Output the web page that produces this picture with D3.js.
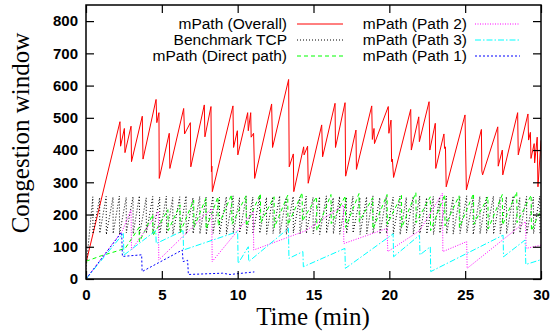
<!DOCTYPE html>
<html>
<head>
<meta charset="utf-8">
<script src="https://cdn.jsdelivr.net/npm/d3@7"></script>
<style>
  body { margin: 0; background: #fff; }
  text { font-family: "Liberation Sans", Arial, sans-serif; }
</style>
</head>
<body>
<script>
// Axis ticks
const xTicks = [0, 5, 10, 15, 20, 25, 30];
const yTicks = [0, 100, 200, 300, 400, 500, 600, 700, 800];

// mPath (Overall) - [time (min), cwnd]
const overall = [
  [0, 50], [2.24, 488], [2.28, 412], [2.53, 467], [2.57, 392], [2.97, 474], [3.0, 364],
  [3.71, 505], [3.76, 372], [4.62, 557], [4.67, 485], [4.81, 516], [4.83, 312],
  [5.49, 452], [5.53, 343], [6.44, 529], [6.5, 450], [6.88, 485], [6.91, 348],
  [7.8, 540], [7.84, 441], [8.24, 535], [8.27, 333], [8.3, 350], [8.33, 271],
  [9.69, 537], [9.73, 408], [9.98, 460], [10.01, 385], [10.66, 516], [10.7, 460],
  [10.86, 516], [10.89, 440], [11.05, 452], [11.12, 312], [12.24, 543], [12.3, 408],
  [13.36, 619], [13.4, 348], [13.67, 388], [13.7, 271], [14.35, 410], [14.38, 385],
  [14.61, 412], [14.65, 297], [15.54, 478], [15.6, 379], [16.42, 545], [16.45, 408],
  [17.08, 547], [17.12, 319], [17.8, 462], [17.83, 340], [18.84, 537], [18.88, 433],
  [18.99, 467], [19.02, 420], [19.93, 535], [19.97, 452], [20.11, 493], [20.15, 364],
  [20.2, 372], [20.28, 315], [21.41, 526], [21.45, 400], [21.94, 503], [21.98, 426],
  [22.62, 550], [22.67, 400], [23.03, 483], [23.06, 343], [23.6, 450], [23.64, 405],
  [23.7, 410], [23.75, 286], [24.99, 509], [25.03, 400], [25.08, 276], [26.07, 464],
  [26.1, 335], [26.15, 323], [27.15, 472], [27.18, 350], [27.45, 400], [27.48, 323],
  [28.46, 516], [28.5, 385], [29.14, 512], [29.18, 431], [29.3, 455], [29.34, 374],
  [29.55, 420], [29.58, 360], [29.75, 440], [29.8, 286], [30, 430]
];

// Benchmark TCP - teeth as [peak time, peak cwnd, cwnd after drop]
const tcpStart = [0, 30];
const tcpTeeth = [
  [0.45, 255, 140], [0.9, 252, 142], [1.33, 256, 138], [1.78, 254, 141], [2.2, 257, 139],
  [2.65, 253, 143], [3.1, 255, 140], [3.52, 258, 138], [3.97, 252, 142], [4.4, 256, 139],
  [4.86, 254, 141], [5.3, 257, 140], [5.72, 253, 138], [6.18, 255, 143], [6.6, 258, 139],
  [7.05, 252, 141], [7.5, 256, 140], [7.92, 254, 138], [8.37, 257, 142], [8.8, 253, 140],
  [9.25, 255, 139], [9.7, 258, 141], [10.12, 252, 143], [10.57, 256, 138], [11.0, 254, 140],
  [11.45, 257, 142], [11.9, 253, 139], [12.32, 255, 141], [12.77, 258, 140], [13.2, 252, 138],
  [13.66, 256, 143], [14.1, 254, 139], [14.52, 257, 141], [14.97, 253, 140], [15.4, 255, 138],
  [15.85, 258, 142], [16.3, 252, 140], [16.72, 256, 139], [17.17, 254, 141], [17.6, 257, 143],
  [18.06, 253, 138], [18.5, 255, 140], [18.92, 258, 142], [19.37, 252, 139], [19.8, 256, 141],
  [20.25, 254, 140], [20.7, 257, 138], [21.12, 253, 143], [21.57, 255, 139], [22.0, 258, 141],
  [22.46, 252, 140], [22.9, 256, 138], [23.32, 254, 142], [23.77, 257, 140], [24.2, 253, 139],
  [24.65, 255, 141], [25.1, 258, 143], [25.52, 252, 138], [25.97, 256, 140], [26.4, 254, 142],
  [26.86, 257, 139], [27.3, 253, 141], [27.72, 255, 140], [28.17, 258, 138], [28.6, 252, 143],
  [29.05, 256, 139], [29.5, 254, 141], [29.92, 257, 140]
];

// mPath (Direct path)
const direct = [
  [0, 55], [1.0, 72], [2.0, 86], [2.6, 96], [3.5, 160], [3.52, 115], [4.4, 200], [4.42, 135],
  [5.4, 215], [5.42, 150], [6.2, 230], [6.22, 145], [7.1, 245], [7.12, 160], [7.9, 250],
  [7.92, 155], [8.7, 255], [8.72, 165], [9.6, 262], [9.62, 170], [10.55, 258], [10.57, 165],
  [11.5, 265], [11.52, 175], [12.4, 255], [12.42, 160], [13.3, 260], [13.32, 168],
  [14.25, 268], [14.27, 180], [15.2, 255], [15.22, 150], [16.15, 262], [16.17, 172],
  [17.1, 258], [17.12, 160], [18.0, 265], [18.02, 178], [18.9, 252], [18.92, 155],
  [19.85, 262], [19.87, 170], [20.8, 260], [20.82, 160], [21.75, 268], [21.77, 175],
  [22.7, 255], [22.72, 150], [23.65, 262], [23.67, 165], [24.6, 258], [24.62, 160],
  [25.55, 265], [25.57, 170], [26.5, 255], [26.52, 155], [27.45, 262], [27.47, 168],
  [28.4, 270], [28.42, 175], [29.35, 260], [29.37, 150], [30, 215]
];

// mPath (Path 2)
const path2 = [
  [0, 0], [2.4, 150], [2.97, 214], [3.0, 90], [4.77, 209], [4.8, 59], [8.29, 219], [8.32, 54],
  [11.03, 209], [11.06, 90], [14.5, 150], [16.97, 229], [17.0, 110], [19.85, 157], [19.9, 85],
  [22.0, 150], [23.5, 266], [23.53, 85], [25.1, 116], [25.13, 33], [28.98, 178], [29.02, 95],
  [30, 105]
];

// mPath (Path 3)
const path3 = [
  [0, 0], [2.46, 141], [2.5, 74], [4.6, 150], [4.63, 110], [6.4, 150], [6.43, 90],
  [10.0, 147], [10.03, 48], [10.7, 100], [10.73, 54], [13.35, 157], [13.38, 64],
  [14.3, 85], [14.33, 38], [17.07, 95], [17.1, 33], [20.25, 140], [20.28, 69],
  [21.99, 136], [22.02, 75], [22.7, 100], [22.73, 23], [27.5, 136], [27.53, 69],
  [28.95, 121], [29.0, 45], [30, 60]
];

// mPath (Path 1)
const path1 = [
  [0, 0], [2.35, 145], [2.4, 70], [3.67, 75], [3.7, 23], [6.35, 90], [6.4, 54],
  [6.7, 58], [6.75, 14], [9.0, 18], [9.5, 14], [11.1, 22]
];

const W = 553, H = 333;
const svg = d3.select('body').append('svg')
  .attr('width', W)
  .attr('height', H);

const x = d3.scaleLinear().domain([0, 30]).range([86, 541]);
const y = d3.scaleLinear().domain([0, 850]).range([279, 5]);

// build TCP sawtooth from its teeth
const tcp = [tcpStart];
tcpTeeth.forEach(d => {
  tcp.push([d[0], d[1]]);
  tcp.push([d[0] + 0.01, d[2]]);
});

const series = [
  { name: 'mPath (Overall)', data: overall, color: '#ff0000', dash: null },
  { name: 'Benchmark TCP', data: tcp, color: '#000000', dash: '1,2' },
  { name: 'mPath (Direct path)', data: direct, color: '#00ff00', dash: '4,3' },
  { name: 'mPath (Path 2)', data: path2, color: '#ff00ff', dash: '1,1.5' },
  { name: 'mPath (Path 3)', data: path3, color: '#00ffff', dash: '6,2,1.5,2' },
  { name: 'mPath (Path 1)', data: path1, color: '#0000ff', dash: '2,2' }
];

const line = d3.line()
  .x(d => x(d[0]))
  .y(d => y(d[1]));

svg.append('defs').append('clipPath').attr('id', 'clip')
  .append('rect')
  .attr('x', 86).attr('y', 5)
  .attr('width', 455).attr('height', 274);

const plot = svg.append('g').attr('clip-path', 'url(#clip)');

series.forEach(s => {
  plot.append('path')
    .datum(s.data)
    .attr('d', line)
    .attr('fill', 'none')
    .attr('stroke', s.color)
    .attr('stroke-width', 1)
    .attr('stroke-dasharray', s.dash);
});

// Axes with inward ticks
svg.append('g')
  .attr('transform', 'translate(0,279)')
  .call(d3.axisBottom(x).tickValues(xTicks).tickSize(-8).tickPadding(10).tickSizeOuter(0));
svg.append('g')
  .attr('transform', 'translate(86,0)')
  .call(d3.axisLeft(y).tickValues(yTicks).tickSize(-8).tickPadding(8).tickSizeOuter(0));
svg.append('g')
  .attr('transform', 'translate(0,5)')
  .call(d3.axisTop(x).tickValues(xTicks).tickSize(-8).tickFormat('').tickSizeOuter(0));
svg.append('g')
  .attr('transform', 'translate(541,0)')
  .call(d3.axisRight(y).tickValues(yTicks).tickSize(-8).tickFormat('').tickSizeOuter(0));

svg.selectAll('.domain').remove();
svg.selectAll('.tick line').attr('stroke', '#000').attr('stroke-width', 1.2);
svg.selectAll('.tick text')
  .attr('fill', '#000')
  .style('font-family', '"Liberation Sans", Arial, sans-serif')
  .style('font-weight', 'bold')
  .style('font-size', '15px');

// Frame
svg.append('rect')
  .attr('x', 86).attr('y', 5)
  .attr('width', 455).attr('height', 274)
  .attr('fill', 'none')
  .attr('stroke', '#000')
  .attr('stroke-width', 1.5);

// Axis titles
svg.append('text')
  .attr('x', 313)
  .attr('y', 325)
  .attr('text-anchor', 'middle')
  .style('font-family', '"Liberation Serif", "Times New Roman", serif')
  .style('font-size', '25px')
  .text('Time (min)');

svg.append('text')
  .attr('transform', 'translate(29,133) rotate(-90)')
  .attr('text-anchor', 'middle')
  .style('font-family', '"Liberation Serif", "Times New Roman", serif')
  .style('font-size', '25px')
  .text('Congestion window');

// Legend (two columns, three rows)
const legendCols = [
  { textX: 287, lineX1: 297, lineX2: 343 },
  { textX: 467, lineX1: 475, lineX2: 520 }
];
const legendRows = [24, 40, 56];

series.forEach((s, i) => {
  const col = legendCols[Math.floor(i / 3)];
  const ly = legendRows[i % 3];
  svg.append('text')
    .attr('x', col.textX)
    .attr('y', ly)
    .attr('dy', '0.35em')
    .attr('text-anchor', 'end')
    .style('font-size', '15.5px')
    .text(s.name);
  svg.append('line')
    .attr('x1', col.lineX1).attr('x2', col.lineX2)
    .attr('y1', ly).attr('y2', ly)
    .attr('stroke', s.color)
    .attr('stroke-width', 1)
    .attr('stroke-dasharray', s.dash);
});
</script>
</body>
</html>
